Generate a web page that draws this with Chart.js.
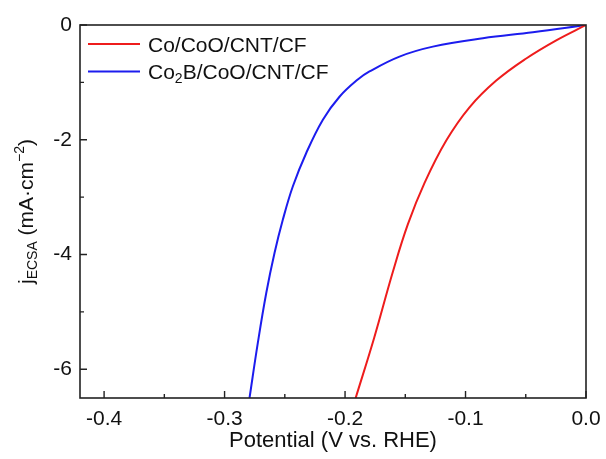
<!DOCTYPE html>
<html>
<head>
<meta charset="utf-8">
<title>LSV ECSA</title>
<script src="https://cdn.jsdelivr.net/npm/chart.js@4/dist/chart.umd.min.js"></script>
<style>
    html, body { margin: 0; padding: 0; background: #fff; }
    #wrap { width: 606px; height: 459px; }
</style>
</head>
<body>
<div id="wrap"><canvas id="lsvChart" width="606" height="459"></canvas></div>
<script>
// Data (potential in V vs RHE, current density in mA/cm2)
const redX = [-0.1912, -0.1758, -0.1603, -0.1479, -0.1340, -0.1160, -0.0967, -0.0745, -0.0496, -0.0247, 0];
const redY = [-6.5, -5.45, -4.30, -3.475, -2.752, -2.014, -1.435, -0.969, -0.583, -0.267, 0];

const blueX = [-0.2793, -0.2724, -0.2654, -0.2585, -0.2516, -0.2433, -0.2322, -0.2184, -0.2046, -0.1900, -0.1797, -0.1548, -0.1271, -0.0856, -0.0441, 0];
const blueY = [-6.5, -5.54, -4.67, -3.97, -3.39, -2.81, -2.23, -1.65, -1.25, -0.96, -0.81, -0.55, -0.377, -0.231, -0.127, 0];

const xTicks = [-0.4, -0.3, -0.2, -0.1, 0.0];
const xMinor = [-0.35, -0.25, -0.15, -0.05];
const yTicks = [0, -2, -4, -6];
const yMinor = [-1, -3, -5];

const seriesNames = ['Co/CoO/CNT/CF', 'Co2B/CoO/CNT/CF'];
const FONT = '"Liberation Sans", Arial, sans-serif';

// Draw a run of text pieces, some of them sub- or superscript
function drawRich(ctx, parts, x, y, size) {
    let cx = x;
    parts.forEach(p => {
        const s = p.sub || p.sup ? Math.round(size * 0.65) : size;
        ctx.font = `${s}px ${FONT}`;
        let dy = 0;
        if (p.sub) dy = size * 0.2;
        if (p.sup) dy = -size * 0.42;
        ctx.fillText(p.t, cx, y + dy);
        cx += ctx.measureText(p.t).width;
    });
    return cx - x;
}

function richWidth(ctx, parts, size) {
    let w = 0;
    parts.forEach(p => {
        const s = p.sub || p.sup ? Math.round(size * 0.65) : size;
        ctx.font = `${s}px ${FONT}`;
        w += ctx.measureText(p.t).width;
    });
    return w;
}

// Frame, inward ticks, legend and axis titles
const framePlugin = {
    id: 'frame',
    afterDraw(chart) {
        const { ctx, chartArea: a, scales } = chart;
        const xs = scales.x, ys = scales.y;
        ctx.save();
        ctx.strokeStyle = '#222';
        ctx.lineWidth = 1.6;
        ctx.strokeRect(a.left, a.top, a.right - a.left, a.bottom - a.top);

        ctx.lineWidth = 1.4;
        ctx.beginPath();
        xTicks.forEach(v => {
            const px = xs.getPixelForValue(v);
            ctx.moveTo(px, a.bottom);
            ctx.lineTo(px, a.bottom - 7);
        });
        xMinor.forEach(v => {
            const px = xs.getPixelForValue(v);
            ctx.moveTo(px, a.bottom);
            ctx.lineTo(px, a.bottom - 4);
        });
        yTicks.forEach(v => {
            const py = ys.getPixelForValue(v);
            ctx.moveTo(a.left, py);
            ctx.lineTo(a.left + 7, py);
        });
        yMinor.forEach(v => {
            const py = ys.getPixelForValue(v);
            ctx.moveTo(a.left, py);
            ctx.lineTo(a.left + 4, py);
        });
        ctx.stroke();

        // legend
        const colors = chart.data.datasets.map(d => d.borderColor);
        const legendParts = [
            [{ t: seriesNames[0] }],
            [{ t: 'Co' }, { t: '2', sub: true }, { t: 'B/CoO/CNT/CF' }]
        ];
        ctx.textBaseline = 'alphabetic';
        ctx.textAlign = 'left';
        legendParts.forEach((parts, i) => {
            const ly = a.top + 19 + i * 27.5;
            ctx.strokeStyle = colors[i];
            ctx.lineWidth = 2;
            ctx.beginPath();
            ctx.moveTo(a.left + 8, ly);
            ctx.lineTo(a.left + 60, ly);
            ctx.stroke();
            ctx.fillStyle = '#111';
            drawRich(ctx, parts, a.left + 68, ly + 7.5, 21);
        });

        // x title
        ctx.fillStyle = '#111';
        ctx.font = `22px ${FONT}`;
        ctx.textAlign = 'center';
        ctx.textBaseline = 'middle';
        ctx.fillText('Potential (V vs. RHE)', (a.left + a.right) / 2, 441);

        // y title, rotated
        const yParts = [
            { t: 'j' }, { t: 'ECSA', sub: true }, { t: ' (mA·cm' }, { t: '−2', sup: true }, { t: ')' }
        ];
        ctx.textAlign = 'left';
        ctx.textBaseline = 'alphabetic';
        const w = richWidth(ctx, yParts, 21);
        ctx.translate(33, (a.top + a.bottom) / 2);
        ctx.rotate(-Math.PI / 2);
        drawRich(ctx, yParts, -w / 2, 0, 21);
        ctx.restore();
    }
};

function buildDataset(xv, yv, label, color) {
    return {
        label: label,
        data: xv.map((x, i) => ({ x: x, y: yv[i] })),
        borderColor: color,
        borderWidth: 2,
        pointRadius: 0,
        showLine: true,
        fill: false,
        tension: 0.4
    };
}

const ctx = document.getElementById('lsvChart');
new Chart(ctx, {
    type: 'scatter',
    data: {
        datasets: [
            buildDataset(redX, redY, seriesNames[0], '#ee1c1c'),
            buildDataset(blueX, blueY, seriesNames[1], '#1c1cee')
        ]
    },
    options: {
        responsive: false,
        animation: false,
        devicePixelRatio: 1,
        layout: { padding: { top: 25, right: 20, left: 0, bottom: 0 } },
        plugins: {
            legend: { display: false },
            tooltip: { enabled: false }
        },
        scales: {
            x: {
                type: 'linear',
                min: -0.42,
                max: 0,
                afterBuildTicks: s => { s.ticks = xTicks.map(v => ({ value: v })); },
                afterFit: s => { s.height = 61; s.paddingLeft = 0; s.paddingRight = 0; },
                grid: { display: false, drawTicks: false },
                border: { display: false },
                ticks: {
                    padding: 9,
                    maxRotation: 0,
                    color: '#111',
                    font: { family: FONT, size: 21 },
                    callback: v => v.toFixed(1)
                }
            },
            y: {
                type: 'linear',
                min: -6.5,
                max: 0,
                afterBuildTicks: s => { s.ticks = yTicks.map(v => ({ value: v })); },
                afterFit: s => { s.width = 80; s.paddingTop = 0; s.paddingBottom = 0; },
                grid: { display: false, drawTicks: false },
                border: { display: false },
                ticks: {
                    padding: 8,
                    color: '#111',
                    font: { family: FONT, size: 21 },
                    callback: v => String(v)
                }
            }
        }
    },
    plugins: [framePlugin]
});
</script>
</body>
</html>
